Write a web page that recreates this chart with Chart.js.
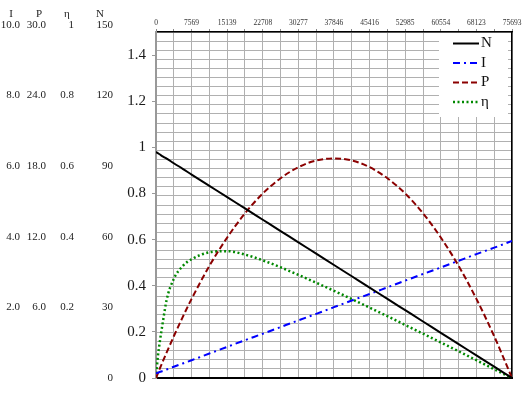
<!DOCTYPE html>
<html>
<head>
<meta charset="utf-8">
<script src="https://cdn.jsdelivr.net/npm/chart.js@4.4.1/dist/chart.umd.min.js"></script>
<style>
  html, body { margin: 0; padding: 0; background: #fff; }
  canvas { display: block; }
</style>
</head>
<body>
<canvas id="chart" width="527" height="394"></canvas>
<script>
// x values (read along the top axis) and the four curves, in main-axis units
const torque = [0, 378, 757, 1514, 2271, 3785, 5677, 7569, 11354, 15139, 18923, 22708, 26493,
  30277, 34062, 37846, 41631, 45416, 49200, 52985, 56770, 60554, 64339, 68123, 71908, 75693];
const speedN = [0.98, 0.975, 0.970, 0.960, 0.951, 0.931, 0.907, 0.882, 0.833, 0.784, 0.735, 0.686, 0.637,
  0.588, 0.539, 0.490, 0.441, 0.392, 0.343, 0.294, 0.245, 0.196, 0.147, 0.098, 0.049, 0];
const currentI = [0.020, 0.023, 0.026, 0.031, 0.037, 0.049, 0.063, 0.077, 0.106, 0.135, 0.164, 0.192, 0.221,
  0.250, 0.278, 0.307, 0.336, 0.364, 0.393, 0.422, 0.451, 0.479, 0.508, 0.537, 0.565, 0.594];
const powerP = [0, 0.019, 0.038, 0.075, 0.111, 0.181, 0.264, 0.343, 0.486, 0.609, 0.714, 0.800, 0.866,
  0.914, 0.943, 0.952, 0.943, 0.914, 0.866, 0.800, 0.714, 0.609, 0.486, 0.343, 0.181, 0];
const effEta = [0, 0.09, 0.15, 0.25, 0.34, 0.43, 0.485, 0.515, 0.545, 0.55, 0.535, 0.51, 0.48,
  0.447, 0.413, 0.378, 0.342, 0.305, 0.268, 0.23, 0.192, 0.154, 0.116, 0.077, 0.038, 0];

// axis ticks
const xGridValues = [0, 3785, 7569, 11354, 15139, 18923, 22708, 26493, 30277, 34062, 37846,
  41631, 45416, 49200, 52985, 56770, 60554, 64339, 68123, 71908, 75693];
const xTickLabels = ['0', '7569', '15139', '22708', '30277', '37846', '45416', '52985', '60554', '68123', '75693'];
const yTickValues = [0, 0.2, 0.4, 0.6, 0.8, 1, 1.2, 1.4];
const yTickLabels = ['0', '0.2', '0.4', '0.6', '0.8', '1', '1.2', '1.4'];

// the scale table on the left
const tableHeads = ['I', 'P', 'η', 'N'];
const colI = ['10.0', '8.0', '6.0', '4.0', '2.0', ''];
const colP = ['30.0', '24.0', '18.0', '12.0', '6.0', ''];
const colEta = ['1', '0.8', '0.6', '0.4', '0.2', ''];
const colN = ['150', '120', '90', '60', '30', '0'];

Chart.defaults.font.family = '"Liberation Serif", "DejaVu Serif", serif';

const points = (ys) => torque.map((x, i) => ({ x, y: ys[i] }));

const series = (label, ys, color, dash, width) => ({
  label,
  data: points(ys),
  borderColor: color,
  borderDash: dash,
  borderWidth: width,
  pointRadius: 0,
  fill: false,
  cubicInterpolationMode: 'monotone',
});

// scale table drawn in the free space left of the y axis
const sideTable = {
  id: 'sideTable',
  afterDraw(chart) {
    const { ctx, chartArea } = chart;
    const top = chartArea.top - 7;
    const bottom = chartArea.bottom;
    const rowY = (i) => top + (bottom - top) * i / 5;
    const cols = [
      { head: tableHeads[0], vals: colI, hx: 11, x: 20 },
      { head: tableHeads[1], vals: colP, hx: 39, x: 46 },
      { head: tableHeads[2], vals: colEta, hx: 67, x: 74 },
      { head: tableHeads[3], vals: colN, hx: 100, x: 113 },
    ];
    ctx.save();
    ctx.fillStyle = '#222';
    ctx.textBaseline = 'middle';
    ctx.font = '11px "Liberation Serif"';
    cols.forEach((c) => {
      ctx.textAlign = 'center';
      ctx.fillText(c.head, c.hx, 14);
      ctx.textAlign = 'right';
      c.vals.forEach((v, i) => ctx.fillText(v, c.x, rowY(i)));
    });
    ctx.restore();
  }
};

// white legend box in the top right corner of the plot
const boxLegend = {
  id: 'boxLegend',
  beforeDatasetsDraw(chart) {
    const { ctx, chartArea } = chart;
    ctx.save();
    ctx.fillStyle = '#fff';
    ctx.fillRect(chartArea.right - 73, chartArea.top + 1, 69, 84);
    ctx.restore();
  },
  afterDatasetsDraw(chart) {
    const { ctx, chartArea } = chart;
    ctx.save();
    chart.data.datasets.forEach((ds, i) => {
      const y = chartArea.top + 11.5 + i * 19.5;
      ctx.beginPath();
      ctx.setLineDash(ds.borderDash || []);
      ctx.lineWidth = ds.borderWidth;
      ctx.strokeStyle = ds.borderColor;
      ctx.moveTo(chartArea.right - 59, y);
      ctx.lineTo(chartArea.right - 33, y);
      ctx.stroke();
      ctx.setLineDash([]);
      ctx.fillStyle = '#111';
      ctx.font = '15px "Liberation Serif"';
      ctx.textAlign = 'left';
      ctx.textBaseline = 'middle';
      ctx.fillText(ds.label, chartArea.right - 31, y);
    });
    ctx.restore();
  }
};

new Chart(document.getElementById('chart'), {
  type: 'line',
  data: {
    datasets: [
      series('N', speedN, '#000000', [], 2),
      series('I', currentI, '#0000ff', [7, 4, 2, 4], 2),
      series('P', powerP, '#8b0000', [6, 3], 2),
      series('η', effEta, '#008800', [2, 2.5], 2.5),
    ]
  },
  options: {
    responsive: false,
    animation: false,
    layout: { padding: { top: 0, left: 0, right: 15, bottom: 16 } },
    plugins: { legend: { display: false }, tooltip: { enabled: false } },
    scales: {
      x: {
        type: 'linear',
        position: 'top',
        min: 0,
        max: 75693,
        afterBuildTicks: (s) => { s.ticks = xGridValues.map((v) => ({ value: v })); },
        afterFit: (s) => { s.height = 32; },
        ticks: {
          autoSkip: false,
          maxRotation: 0,
          padding: 1,
          color: '#333',
          font: { size: 7.5 },
          callback: (v, i) => (i % 2 ? '' : xTickLabels[i / 2]),
        },
        grid: { color: '#b0b0b0', lineWidth: 1, tickLength: 3, tickColor: '#888' },
        border: { color: '#000', width: 1.5 },
      },
      xb: {
        type: 'linear',
        position: 'bottom',
        min: 0,
        max: 1,
        afterFit: (s) => { s.height = 0; },
        ticks: { display: false },
        grid: { display: false, drawTicks: false },
        border: { color: '#000', width: 2 },
      },
      y: {
        type: 'linear',
        position: 'left',
        min: 0,
        max: 1.5,
        afterBuildTicks: (s) => { s.ticks = yTickValues.map((v) => ({ value: v })); },
        afterFit: (s) => { s.width = 156; },
        ticks: {
          autoSkip: false,
          padding: 6,
          color: '#1a1a1a',
          font: { size: 15 },
          callback: (v, i) => yTickLabels[i],
        },
        grid: { drawOnChartArea: false, tickLength: 4, tickColor: '#999' },
        border: { color: '#999', width: 2 },
      },
      yg: {
        type: 'linear',
        position: 'right',
        min: 0,
        max: 38,
        afterFit: (s) => { s.width = 0; },
        ticks: { display: false, stepSize: 1 },
        grid: { color: '#b0b0b0', lineWidth: 1, drawTicks: false },
        border: { color: '#000', width: 1.5 },
      },
    }
  },
  plugins: [sideTable, boxLegend]
});
</script>
</body>
</html>
